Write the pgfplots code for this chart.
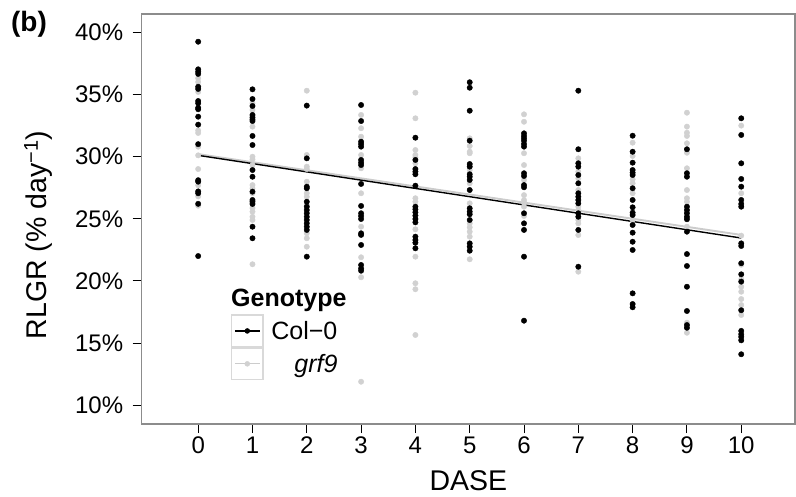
\documentclass[border=0pt]{standalone}
\usepackage{fontspec}
\setmainfont{Liberation Sans}
\usepackage{pgfplots}
\pgfplotsset{compat=1.18}
\definecolor{ltg}{gray}{0.82}
\definecolor{lineg}{gray}{0.80}
\definecolor{boxg}{gray}{0.85}
\definecolor{frameg}{gray}{0.55}
\begin{document}
\begin{tikzpicture}
\path[use as bounding box] (0,0) rectangle (796bp,497bp);
\begin{axis}[
  at={(141.7bp,73bp)}, anchor=south west,
  scale only axis, width=653.3bp, height=410bp,
  xmin=-1.04, xmax=10.99, ymin=8.49, ymax=41.47,
  xtick={0,1,2,3,4,5,6,7,8,9,10},
  ytick={10,15,20,25,30,35,40},
  yticklabels={10\%,15\%,20\%,25\%,30\%,35\%,40\%},
  tick pos=left, tick align=outside, major tick length=9bp,
  tick style={black, line width=0.9bp},
  axis line style={frameg, line width=1.2bp},
  ticklabel style={font=\fontsize{24bp}{28bp}\selectfont},
  yticklabel style={xshift=-6bp},
  /pgf/number format/assume math mode=true,
  xlabel={DASE},
  ylabel={RLGR (\% day\textsuperscript{−1})},
  label style={font=\fontsize{28.5bp}{31bp}\selectfont},
  xlabel style={at={(rel axis cs:0.5,-0.139)}, anchor=center},
  ylabel style={at={(rel axis cs:-0.158,0.461)}, anchor=center},
  legend cell align=left,
  legend style={at={(rel axis cs:0.1362,0.2676)}, anchor=north west, draw=none, fill=none,
    inner sep=0pt, row sep=0pt, column sep=7.7bp,
    nodes={inner sep=0pt, font=\fontsize{25bp}{29bp}\selectfont}},
  clip=false,
]
% grf9 points
\addplot[only marks, mark=*, mark size=2.7bp, color=ltg, forget plot] table {
x y
0 36.3
0 36.0
0 35.2
0 32.1
0 31.9
0 30.8
0 30.1
0 29.0
0 27.7
0 26.8
0 26.05
1 34.29
1 33.75
1 32.41
1 29.99
1 29.78
1 29.32
1 27.71
1 27.45
1 27.05
1 25.86
1 25.57
1 25.16
1 24.9
1 21.34
2 35.3
2 30.13
2 29.19
2 29.0
2 27.98
2 27.05
2 26.77
2 26.1
2 23.83
2 23.43
2 22.75
3 33.35
3 32.28
3 31.6
3 30.13
3 29.06
3 27.05
3 24.36
3 21.9
3 20.29
3 11.89
4 35.14
4 33.08
4 30.53
4 30.13
4 29.94
4 29.46
4 26.65
4 26.37
4 24.15
4 21.95
4 19.81
4 19.33
4 15.65
5 31.47
5 30.85
5 30.39
5 30.27
5 29.19
5 28.92
5 27.85
5 26.24
5 24.63
5 24.31
5 23.96
5 23.56
5 21.74
6 33.4
6 32.8
6 30.27
6 29.32
6 28.12
6 26.9
6 26.5
6 26.29
6 25.97
6 25.22
7 29.86
7 28.79
7 28.25
7 27.31
7 25.97
7 25.7
7 24.9
7 24.63
7 23.69
7 20.74
8 31.12
8 30.05
8 28.17
8 27.85
8 27.05
8 24.9
9 33.53
9 32.41
9 31.92
9 31.66
9 31.07
9 30.31
9 29.06
9 27.31
9 26.65
9 26.37
9 24.36
9 16.64
9 15.83
10 32.49
10 27.05
10 23.64
10 21.3
10 20.13
10 19.53
10 19.13
10 18.54
10 18.06
10 17.66
10 17.26
10 15.3
};
% Col-0 points
\addplot[only marks, mark=*, mark size=2.7bp, color=black, forget plot] table {
x y
0 39.24
0 37.02
0 36.83
0 36.65
0 35.62
0 35.44
0 34.47
0 34.29
0 33.93
0 33.81
0 33.21
0 32.57
0 31.0
0 28.1
0 27.98
0 27.2
0 27.05
0 26.2
0 22.0
1 35.41
1 34.63
1 34.07
1 33.35
1 33.16
1 33.0
1 32.86
1 31.66
1 30.93
1 28.92
1 28.38
1 27.18
1 26.51
1 26.37
1 26.19
1 24.36
1 23.43
2 34.1
2 29.86
2 27.58
2 27.45
2 26.37
2 25.97
2 25.7
2 25.44
2 25.16
2 24.9
2 24.63
2 24.36
2 24.1
2 21.95
3 34.15
3 32.86
3 31.2
3 31.01
3 30.8
3 29.73
3 29.51
3 29.32
3 27.8
3 26.03
3 25.44
3 25.22
3 24.98
3 23.83
3 23.7
3 22.89
3 21.28
3 21.0
3 20.82
4 31.52
4 29.73
4 29.0
4 28.79
4 28.58
4 27.66
4 25.97
4 25.76
4 25.52
4 25.25
4 24.98
4 24.71
4 23.56
4 23.29
4 23.07
4 22.62
5 35.98
5 35.54
5 33.69
5 31.28
5 29.4
5 29.19
5 28.58
5 28.38
5 28.12
5 27.31
5 25.84
5 25.57
5 25.36
5 24.9
5 23.02
5 22.75
5 22.43
6 31.87
6 31.66
6 31.47
6 31.28
6 31.01
6 30.8
6 28.66
6 28.44
6 27.71
6 27.53
6 25.44
6 24.63
6 24.1
6 21.95
6 16.8
7 35.3
7 30.59
7 29.46
7 29.19
7 28.52
7 27.85
7 27.05
7 26.77
7 26.51
7 26.24
7 25.44
7 25.16
7 24.1
7 21.14
8 31.68
8 30.39
8 29.51
8 28.92
8 28.7
8 28.52
8 27.45
8 26.51
8 25.92
8 25.49
8 25.3
8 24.5
8 23.88
8 23.15
8 22.49
8 19.0
8 18.14
8 17.88
9 30.59
9 28.66
9 28.38
9 25.97
9 25.7
9 25.44
9 25.16
9 24.96
9 23.96
9 22.16
9 21.2
9 19.53
9 17.58
9 16.45
9 16.23
10 33.08
10 31.74
10 29.46
10 28.2
10 27.58
10 26.51
10 26.19
10 25.97
10 23.02
10 22.81
10 21.42
10 20.53
10 19.94
10 17.64
10 15.98
10 15.71
10 15.5
10 15.22
10 14.1
};
% regression lines
\addplot[lineg, line width=1.9bp, forget plot] coordinates {(0,30.2) (10,23.7)};
\addplot[black, line width=1.4bp, forget plot] coordinates {(0,30.1) (10,23.45)};
% legend
\addlegendimage{legend image code/.code={
  \draw[draw=boxg, line width=1.2bp, fill=white] (0bp,-15.85bp) rectangle (31.6bp,15.85bp);
  \draw[black, line width=1.3bp] (3.5bp,0bp) -- (28.1bp,0bp);
  \fill[black] (15.8bp,0bp) circle (2.5bp);}}
\addlegendentry{Col−0}
\addlegendimage{legend image code/.code={
  \draw[draw=boxg, line width=1.2bp, fill=white] (0bp,-15.85bp) rectangle (31.6bp,15.85bp);
  \draw[lineg, line width=1.3bp] (3.5bp,0bp) -- (28.1bp,0bp);
  \fill[ltg] (15.8bp,0bp) circle (2.5bp);}}
\addlegendentry{\hspace*{23bp}\textit{grf9}}
\node[anchor=base west, inner sep=0pt, font=\bfseries\fontsize{25bp}{29bp}\selectfont] at (rel axis cs:0.1367,0.2861) {Genotype};
\node[anchor=center, inner sep=0pt, font=\bfseries\fontsize{28bp}{32bp}\selectfont] at (rel axis cs:-0.1725,0.9756) {(b)};
\end{axis}
\end{tikzpicture}
\end{document}
